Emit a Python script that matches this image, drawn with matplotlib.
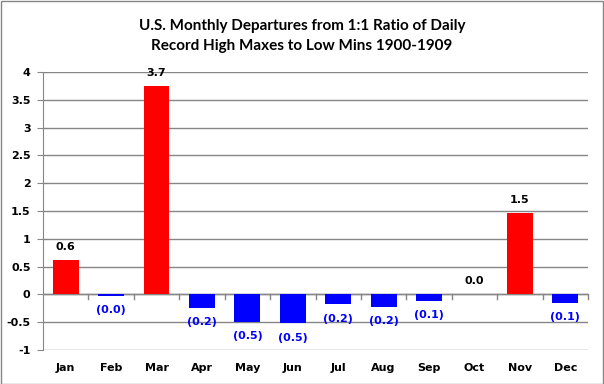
import matplotlib.pyplot as plt
import numpy as np

months = ["Jan", "Feb", "Mar", "Apr", "May", "Jun",
          "Jul", "Aug", "Sep", "Oct", "Nov", "Dec"]
departures = [0.61, -0.02, 3.74, -0.24, -0.49, -0.52,
              -0.17, -0.22, -0.11, 0.0, 1.46, -0.15]

fig = plt.figure(figsize=[6.04, 3.84], dpi=100)
ax = fig.add_axes([43 / 604, 1 - 350 / 384, (588 - 43) / 604, (350 - 72) / 384])

x = np.arange(len(months))
colors = ["red" if v >= 0 else "blue" for v in departures]
ax.bar(x, departures, width=0.57, color=colors, zorder=3)

for xi, v in zip(x, departures):
    if v >= 0:
        ax.annotate(f"{v:.1f}", (xi, v), xytext=(0, 6), textcoords="offset points",
                    ha="center", va="bottom", fontsize=8, fontweight="bold", color="black")
    else:
        ax.annotate(f"({abs(v):.1f})", (xi, v), xytext=(0, -7), textcoords="offset points",
                    ha="center", va="top", fontsize=8, fontweight="bold", color="blue")

ax.set_xlim(-0.5, 11.5)
ax.set_ylim(-1, 4)
ax.set_yticks(np.arange(-1, 4.01, 0.5))
ax.set_yticklabels(["-1", "-0.5", "0", "0.5", "1", "1.5", "2", "2.5", "3", "3.5", "4"])
ax.grid(axis="y", color="#868686", linewidth=1, zorder=0)
ax.set_xticks([])

for sp in ["top", "right", "bottom"]:
    ax.spines[sp].set_visible(False)
ax.spines["left"].set_color("#868686")
ax.tick_params(axis="y", length=4, color="#868686", labelsize=8, pad=5)
for lbl in ax.get_yticklabels():
    lbl.set_fontweight("bold")

# zero line with category-boundary ticks
ax.axhline(0, color="#868686", linewidth=1, zorder=2)
for b in np.arange(0.5, 11.6, 1):
    ax.plot([b, b], [0, -0.08], color="#868686", linewidth=1, zorder=2, clip_on=False)

for xi, m in zip(x, months):
    ax.text(xi, -1.32, m, ha="center", va="center", fontsize=8, fontweight="bold")

fig.text(0.5, 1 - 26 / 384, "U.S. Monthly Departures from 1:1 Ratio of Daily",
         ha="center", va="center", fontsize=11, fontweight="bold", family="Lato")
fig.text(0.5, 1 - 46 / 384, "Record High Maxes to Low Mins 1900-1909",
         ha="center", va="center", fontsize=11, fontweight="bold", family="Lato")

border = plt.Rectangle((0.5 / 604, 0.5 / 384), 1 - 1.5 / 604, 1 - 1.5 / 384,
                       transform=fig.transFigure, fill=False, edgecolor="#868686", linewidth=1)
fig.patches.append(border)

fig.savefig("out.png", dpi=100)
